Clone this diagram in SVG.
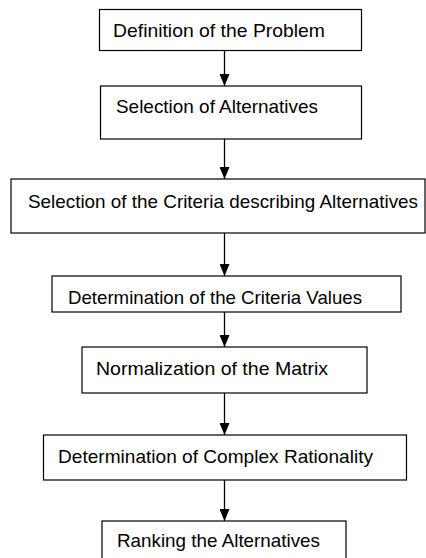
<svg xmlns="http://www.w3.org/2000/svg" width="426" height="558" viewBox="0 0 426 558">
  <style>
    .box { fill: #ffffff; stroke: #000000; stroke-width: 1.2; }
    .lbl { font-family: "Liberation Sans", Arial, sans-serif; font-size: 19px; fill: #000000; }
    .conn { stroke: #000000; stroke-width: 1.3; fill: none; marker-end: url(#arrow); }
  </style>
  <defs>
    <marker id="arrow" markerUnits="userSpaceOnUse" markerWidth="12" markerHeight="10" refX="12" refY="5" orient="auto" viewBox="0 0 12 10">
      <path d="M0,0 L12,5 L0,10 Z" fill="#000000"/>
    </marker>
  </defs>
  <rect width="426" height="558" fill="#ffffff"/>
  <g id="connectors">
    <line class="conn" x1="224.5" y1="51" x2="224.5" y2="86"/>
    <line class="conn" x1="224.5" y1="139" x2="224.5" y2="179"/>
    <line class="conn" x1="224.5" y1="233" x2="224.5" y2="276"/>
    <line class="conn" x1="224.5" y1="312" x2="224.5" y2="347"/>
    <line class="conn" x1="224.5" y1="393" x2="224.5" y2="435"/>
    <line class="conn" x1="224.5" y1="480" x2="224.5" y2="521"/>
  </g>
  <g id="n1">
    <rect class="box" x="99.5" y="9.5" width="262" height="41"/>
    <text class="lbl" x="113" y="37" textLength="212" lengthAdjust="spacingAndGlyphs">Definition of the Problem</text>
  </g>
  <g id="n2">
    <rect class="box" x="100.5" y="86" width="261" height="53"/>
    <text class="lbl" x="116" y="113" textLength="202" lengthAdjust="spacingAndGlyphs">Selection of Alternatives</text>
  </g>
  <g id="n3">
    <rect class="box" x="11" y="179" width="414" height="54"/>
    <text class="lbl" x="28" y="208" textLength="390" lengthAdjust="spacingAndGlyphs">Selection of the Criteria describing Alternatives</text>
  </g>
  <g id="n4">
    <rect class="box" x="52" y="276" width="349" height="36"/>
    <text class="lbl" x="68" y="304" textLength="294" lengthAdjust="spacingAndGlyphs">Determination of the Criteria Values</text>
  </g>
  <g id="n5">
    <rect class="box" x="82" y="347" width="285" height="46"/>
    <text class="lbl" x="96" y="375" textLength="232" lengthAdjust="spacingAndGlyphs">Normalization of the Matrix</text>
  </g>
  <g id="n6">
    <rect class="box" x="43.5" y="435" width="363" height="45"/>
    <text class="lbl" x="58" y="463" textLength="315" lengthAdjust="spacingAndGlyphs">Determination of Complex Rationality</text>
  </g>
  <g id="n7">
    <rect class="box" x="102" y="521" width="244" height="50"/>
    <text class="lbl" x="117" y="547" textLength="203" lengthAdjust="spacingAndGlyphs">Ranking the Alternatives</text>
  </g>
</svg>
